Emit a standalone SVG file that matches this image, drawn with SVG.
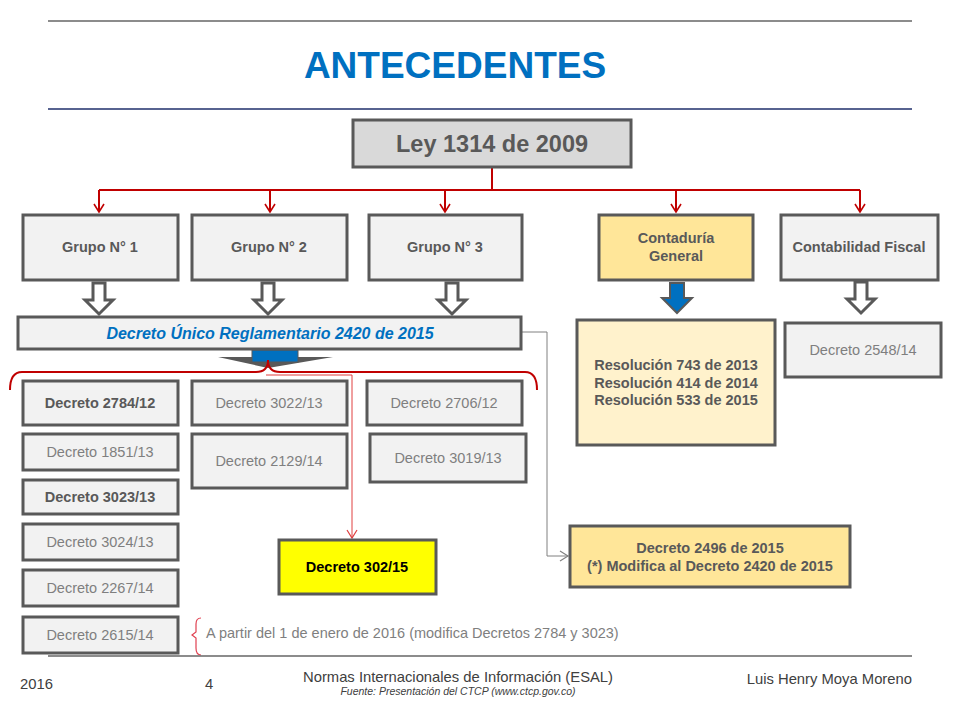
<svg xmlns="http://www.w3.org/2000/svg" width="960" height="720" viewBox="0 0 960 720">
<style>
text{font-family:"Liberation Sans",Arial,sans-serif;}
.box{fill:#F2F2F2;stroke:#595959;stroke-width:3;}
.yel{fill:#FFE699;stroke:#595959;stroke-width:3;}
.lyel{fill:#FFF2CC;stroke:#595959;stroke-width:3;}
.b{font-size:14.5px;font-weight:bold;fill:#595959;text-anchor:middle;}
.n{font-size:14.5px;fill:#7F7F7F;text-anchor:middle;}
.red{fill:none;stroke:#C00000;stroke-width:2;}
.hollow{fill:#FFFFFF;stroke:#595959;stroke-width:3;stroke-linejoin:miter;}
.foot{font-size:14.8px;fill:#404040;}
</style>
<defs>
<marker id="ra" markerWidth="12" markerHeight="12" refX="10" refY="6" orient="auto" markerUnits="userSpaceOnUse" viewBox="0 0 12 12">
<path d="M2,1 L10,6 L2,11" fill="none" stroke="#C00000" stroke-width="1.6"/>
</marker>
<marker id="ga" markerWidth="12" markerHeight="12" refX="10" refY="6" orient="auto" markerUnits="userSpaceOnUse" viewBox="0 0 12 12">
<path d="M2,1 L10,6 L2,11" fill="none" stroke="#808080" stroke-width="1.2"/>
</marker>
<marker id="ta" markerWidth="12" markerHeight="12" refX="10" refY="6" orient="auto" markerUnits="userSpaceOnUse" viewBox="0 0 12 12">
<path d="M2,1 L10,6 L2,11" fill="none" stroke="#E04040" stroke-width="1.2"/>
</marker>
</defs>
<rect width="960" height="720" fill="#FFFFFF"/>
<line x1="48" y1="21" x2="912" y2="21" stroke="#666666" stroke-width="1.5"/>
<text x="455" y="78" font-size="37" font-weight="bold" fill="#0070C0" text-anchor="middle">ANTECEDENTES</text>
<line x1="48" y1="109" x2="912" y2="109" stroke="#1F2F6B" stroke-width="1.5"/>

<g id="connectors">
<path class="red" d="M492,167 V190"/>
<path class="red" d="M99,190 H860"/>
<path class="red" d="M99,190 V212" marker-end="url(#ra)"/>
<path class="red" d="M270,190 V212" marker-end="url(#ra)"/>
<path class="red" d="M445,190 V212" marker-end="url(#ra)"/>
<path class="red" d="M676,190 V212" marker-end="url(#ra)"/>
<path class="red" d="M860,190 V212" marker-end="url(#ra)"/>
<path class="hollow" d="M93,283 H105 V300 H113 L99,314 L85,300 H93 Z"/>
<path class="hollow" d="M262,283 H274 V300 H282 L268,314 L254,300 H262 Z"/>
<path class="hollow" d="M446,283 H458 V300 H466 L452,314 L438,300 H446 Z"/>
<path class="hollow" d="M855,282 H867 V299 H875 L861,313 L847,299 H855 Z"/>
<path d="M670,283 H684 V298 H692 L677,313 L662,298 H670 Z" fill="#0070C0" stroke="#595959" stroke-width="2"/>
<polygon points="218,357 333,357 268,368" fill="#595959"/>
<rect x="252" y="350" width="46" height="12" fill="#0070C0" stroke="#595959" stroke-width="1"/>
<path class="red" d="M10,390 Q10,372 22,372 H256 Q268,372 268,360 Q268,372 280,372 H525 Q537,372 537,390"/>
<path d="M266,375 H352 V538" fill="none" stroke="#E04040" stroke-width="1" marker-end="url(#ta)"/>
<path d="M522,332 H547 V556 H568" fill="none" stroke="#808080" stroke-width="1" marker-end="url(#ga)"/>
<path d="M201,618 Q196,618 196,624 V632 L192,635 L196,638 V648 Q196,655 201,655" fill="none" stroke="#E04050" stroke-width="1.2"/>
</g>

<g id="ley"><rect x="353" y="120" width="278" height="47" fill="#D9D9D9" stroke="#595959" stroke-width="3"/>
<text x="492" y="152" font-size="23.5" font-weight="bold" fill="#595959" text-anchor="middle">Ley 1314 de 2009</text></g>

<g id="g1"><rect class="box" x="23" y="215" width="155" height="65"/><text class="b" x="100" y="252">Grupo N° 1</text></g>
<g id="g2"><rect class="box" x="192" y="215" width="155" height="65"/><text class="b" x="269" y="252">Grupo N° 2</text></g>
<g id="g3"><rect class="box" x="369" y="215" width="153" height="65"/><text class="b" x="445" y="252">Grupo N° 3</text></g>
<g id="cg"><rect class="yel" x="599" y="215" width="154" height="65"/><text class="b" x="676" y="243">Contaduría</text><text class="b" x="676" y="261">General</text></g>
<g id="cf"><rect class="box" x="781" y="215" width="157" height="65"/><text class="b" x="859" y="252">Contabilidad Fiscal</text></g>

<g id="dur"><rect class="box" x="18" y="317" width="503" height="32"/>
<text x="270" y="339" font-size="16" font-weight="bold" font-style="italic" fill="#0070C0" text-anchor="middle">Decreto Único Reglamentario 2420 de 2015</text></g>

<g id="res"><rect class="lyel" x="577" y="320" width="198" height="125"/>
<text class="b" x="676" y="370">Resolución 743 de 2013</text>
<text class="b" x="676" y="388">Resolución 414 de 2014</text>
<text class="b" x="676" y="405">Resolución 533 de 2015</text></g>

<g id="d2548"><rect class="box" x="785" y="323" width="156" height="54"/><text class="n" x="863" y="355">Decreto 2548/14</text></g>

<g id="d2784"><rect class="box" x="23" y="381" width="155" height="44"/><text class="b" x="100" y="408">Decreto 2784/12</text></g>
<g id="d1851"><rect class="box" x="23" y="434" width="155" height="36"/><text class="n" x="100" y="457">Decreto 1851/13</text></g>
<g id="d3023"><rect class="box" x="23" y="480" width="155" height="34"/><text class="b" x="100" y="502">Decreto 3023/13</text></g>
<g id="d3024"><rect class="box" x="23" y="524" width="155" height="36"/><text class="n" x="100" y="547">Decreto 3024/13</text></g>
<g id="d2267"><rect class="box" x="23" y="570" width="155" height="36"/><text class="n" x="100" y="593">Decreto 2267/14</text></g>
<g id="d2615"><rect class="box" x="23" y="617" width="155" height="36"/><text class="n" x="100" y="640">Decreto 2615/14</text></g>

<g id="d3022"><rect class="box" x="192" y="381" width="155" height="44"/><text class="n" x="269" y="408">Decreto 3022/13</text></g>
<g id="d2129"><rect class="box" x="192" y="434" width="155" height="54"/><text class="n" x="269" y="466">Decreto 2129/14</text></g>
<g id="d2706"><rect class="box" x="367" y="381" width="155" height="44"/><text class="n" x="444" y="408">Decreto 2706/12</text></g>
<g id="d3019"><rect class="box" x="370" y="434" width="156" height="48"/><text class="n" x="448" y="463">Decreto 3019/13</text></g>

<g id="d302"><rect x="279" y="540" width="157" height="54" fill="#FFFF00" stroke="#595959" stroke-width="3"/><text x="357" y="572" font-size="14.5" font-weight="bold" fill="#000000" text-anchor="middle">Decreto 302/15</text></g>

<g id="d2496"><rect class="yel" x="570" y="526" width="280" height="61"/>
<text class="b" x="710" y="553">Decreto 2496 de 2015</text>
<text class="b" x="710" y="571">(*) Modifica al Decreto 2420 de 2015</text></g>

<g id="nota"><text x="206" y="638" font-size="14.5" fill="#7F7F7F">A partir del 1 de enero de 2016 (modifica Decretos 2784 y 3023)</text></g>

<line x1="48" y1="656" x2="912" y2="656" stroke="#666666" stroke-width="1.5"/>
<text class="foot" x="20" y="689">2016</text>
<text class="foot" x="205" y="689">4</text>
<text class="foot" x="458" y="682" text-anchor="middle">Normas Internacionales de Información (ESAL)</text>
<text x="458" y="695" font-size="10.5" font-style="italic" fill="#404040" text-anchor="middle">Fuente: Presentación del CTCP (www.ctcp.gov.co)</text>
<text class="foot" x="912" y="684" text-anchor="end">Luis Henry Moya Moreno</text>
</svg>
